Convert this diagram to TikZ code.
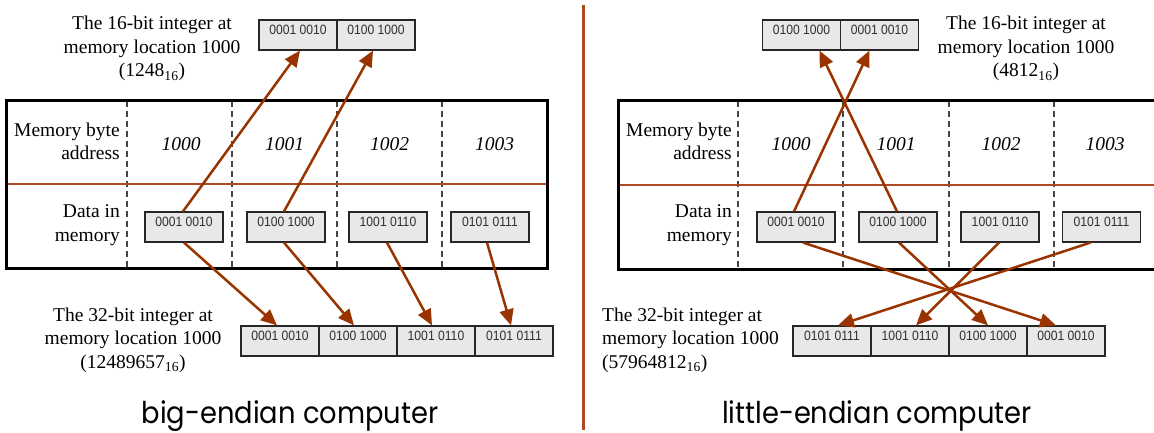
\documentclass[tikz,border=0pt]{standalone}
\usepackage{fontspec}
\setmainfont{Liberation Serif}
\newfontfamily\numfont[FakeStretch=0.9]{Liberation Sans}
\newfontfamily\capfont[FakeStretch=0.91]{Poppins}
\usetikzlibrary{arrows.meta}
\definecolor{arr}{RGB}{153,51,0}
\definecolor{divc}{RGB}{175,75,35}
\definecolor{cellfill}{RGB}{232,232,232}
\definecolor{celltext}{RGB}{50,50,50}
\definecolor{dashc}{RGB}{70,70,70}
\begin{document}
\begin{tikzpicture}[x=1pt,y=-1pt,
 cell/.style={draw=black!85,line width=1.2pt,fill=cellfill,inner sep=0pt,minimum width=78pt,
   text height=14.5pt,text depth=15.5pt,font=\numfont\fontsize{13.5}{15}\selectfont,text=celltext},
 lbl/.style={font=\fontsize{19.5}{23.5}\selectfont,inner sep=0pt},
 addr/.style={font=\fontsize{19.5}{23.5}\selectfont\itshape,inner sep=0pt,anchor=base},
 link/.style={draw=arr,line width=2.5pt,-{Triangle[length=16pt,width=14pt]}},
 sep/.style={draw=dashc,line width=1.3pt,dash pattern=on 6pt off 4pt},
 frame/.style={draw=black,line width=3pt},
 rule/.style={draw=divc,line width=2.7pt},
 captxt/.style={font=\capfont\fontsize{30}{32}\selectfont,inner sep=0pt,anchor=base}
]
\useasboundingbox (0,0) rectangle (1154,433);

% central divider
\draw[draw=divc,line width=3pt] (583,5) -- (583,430);

% ================= LEFT: big-endian =================
\foreach \x in {127,232,337,442} \draw[sep] (\x,101) -- (\x,268);
\draw[rule] (6,184) -- (547,184);
\draw[frame] (6,101) rectangle (547,268);

\node[lbl,anchor=base east,align=right] (La) at (120,160) {Memory byte\\address};
\node[lbl,anchor=base east,align=right] (Ld) at (120,241) {Data in\\memory};
\node[addr] (La1) at (181,150) {1000};
\node[addr] (La2) at (284.5,150) {1001};
\node[addr] (La3) at (389.5,150) {1002};
\node[addr] (La4) at (494.5,150) {1003};

\node[cell] (Ld1) at (184,227) {0001 0010};
\node[cell] (Ld2) at (286,227) {0100 1000};
\node[cell] (Ld3) at (388,227) {1001 0110};
\node[cell] (Ld4) at (490,227) {0101 0111};

\node[cell] (Lt1) at (298,35) {0001 0010};
\node[cell] (Lt2) at (376,35) {0100 1000};

\node[cell] (Lb1) at (280,341) {0001 0010};
\node[cell] (Lb2) at (358,341) {0100 1000};
\node[cell] (Lb3) at (436,341) {1001 0110};
\node[cell] (Lb4) at (514,341) {0101 0111};

\node[lbl,anchor=base,align=center] (Lt) at (152,77) {The 16-bit integer at\\memory location 1000\\(1248\textsubscript{16})};
\node[lbl,anchor=base,align=center] (Lb) at (133,368) {The 32-bit integer at\\memory location 1000\\(12489657\textsubscript{16})};

\draw[link] ([xshift=-1pt]Ld1.north) -- ([xshift=2pt]Lt1.south);
\draw[link] ([xshift=-2pt]Ld2.north) -- ([xshift=-3pt]Lt2.south);
\draw[link] (Ld1.south) -- ([xshift=-3pt]Lb1.north);
\draw[link] ([xshift=-2pt]Ld2.south) -- ([xshift=-4pt]Lb2.north);
\draw[link] ([xshift=-1pt]Ld3.south) -- ([xshift=-4pt]Lb3.north);
\draw[link] ([xshift=-3pt]Ld4.south) -- ([xshift=-3pt]Lb4.north);

\node[captxt] (Lc) at (290,423) {big-endian computer};

% ================= RIGHT: little-endian =================
\foreach \x in {738,843,949,1054} \draw[sep] (\x,101) -- (\x,269);
\draw[rule] (618,185) -- (1160,185);
\draw[frame] (618,101) rectangle (1160,269);

\node[lbl,anchor=base east,align=right] (Ra) at (732,160) {Memory byte\\address};
\node[lbl,anchor=base east,align=right] (Rd) at (732,241) {Data in\\memory};
\node[addr] (Ra1) at (791,150) {1000};
\node[addr] (Ra2) at (896,150) {1001};
\node[addr] (Ra3) at (1001,150) {1002};
\node[addr] (Ra4) at (1105,150) {1003};

\node[cell] (Rd1) at (796,227) {0001 0010};
\node[cell] (Rd2) at (898,227) {0100 1000};
\node[cell] (Rd3) at (1000,227) {1001 0110};
\node[cell] (Rd4) at (1101.5,227) {0101 0111};

\node[cell] (Rt1) at (801.5,35) {0100 1000};
\node[cell] (Rt2) at (879.5,35) {0001 0010};

\node[cell] (Rb1) at (832,341) {0101 0111};
\node[cell] (Rb2) at (910,341) {1001 0110};
\node[cell] (Rb3) at (988,341) {0100 1000};
\node[cell] (Rb4) at (1066,341) {0001 0010};

\node[lbl,anchor=base,align=center] (Rt) at (1026,77) {The 16-bit integer at\\memory location 1000\\(4812\textsubscript{16})};
\node[lbl,anchor=base west,align=left] (Rb) at (602,368) {The 32-bit integer at\\memory location 1000\\(57964812\textsubscript{16})};

\draw[link] ([xshift=-2pt]Rd1.north) -- ([xshift=-10pt]Rt2.south);
\draw[link] ([xshift=-1pt]Rd2.north) -- ([xshift=18pt]Rt1.south);
\draw[link] ([xshift=7pt]Rd1.south) -- ([xshift=-10pt]Rb4.north);
\draw[link] ([xshift=1pt]Rd2.south) -- (Rb3.north);
\draw[link] ([xshift=-1pt]Rd3.south) -- ([xshift=6pt]Rb2.north);
\draw[link] ([xshift=-11pt]Rd4.south) -- ([xshift=6pt]Rb1.north);

\node[captxt] (Rc) at (877,423) {little-endian computer};
\end{tikzpicture}
\end{document}
